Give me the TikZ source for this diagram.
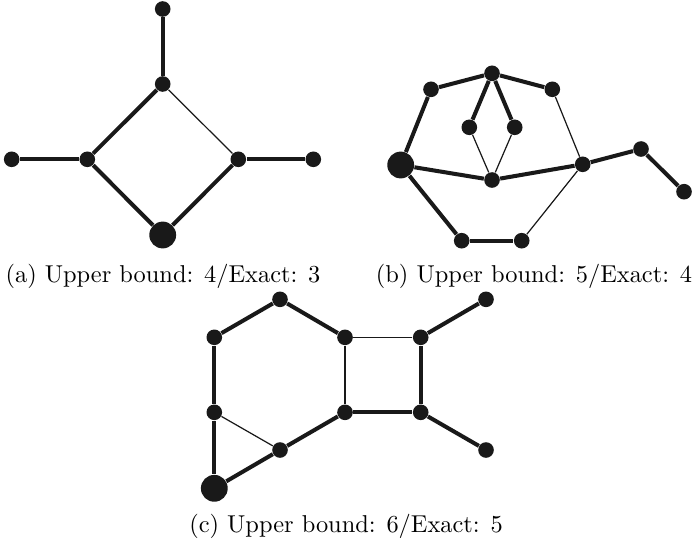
\documentclass[tikz,border=0pt]{standalone}
\begin{document}
\begin{tikzpicture}[
    x=0.41pt, y=-0.41pt,
    vtx/.style={circle, fill=black!90, inner sep=0pt, minimum size=6.4pt},
    rootvtx/.style={circle, fill=black!90, inner sep=0pt, minimum size=11pt},
    heavy/.style={line width=1.65pt, black!90},
    light/.style={line width=0.5pt, black!90},
    sublbl/.style={anchor=base, inner sep=0pt},
]
\useasboundingbox (0,0) rectangle (698,543);

% --- (a): diamond with four pendant vertices ---
\node[vtx] (a1) at (162.7,9) {};
\node[vtx] (a2) at (162.7,84) {};
\node[vtx] (a3) at (11.7,159.3) {};
\node[vtx] (a4) at (87.3,159.3) {};
\node[vtx] (a5) at (238.3,159.3) {};
\node[vtx] (a6) at (313.3,159.3) {};
\node[rootvtx] (a7) at (162.7,235) {};
\foreach \u/\v in {a1/a2, a2/a4, a3/a4, a4/a7, a7/a5, a5/a6}
    \draw[heavy] (\u) -- (\v);
\draw[light] (a2) -- (a5);
\node[sublbl] (capa) at (163,282) {(a) Upper bound: 4/Exact: 3};

% --- (b) ---
\node[vtx] (b1) at (492,73.3) {};
\node[vtx] (b2) at (431,89.3) {};
\node[vtx] (b3) at (552.3,89.3) {};
\node[vtx] (b4) at (469.3,127.3) {};
\node[vtx] (b5) at (514.7,127.3) {};
\node[rootvtx] (b6) at (400.7,165) {};
\node[vtx] (b7) at (492,180) {};
\node[vtx] (b8) at (582.7,164.3) {};
\node[vtx] (b9) at (641,149) {};
\node[vtx] (b10) at (684,191.7) {};
\node[vtx] (b11) at (461.7,240.7) {};
\node[vtx] (b12) at (521.7,240.7) {};
\foreach \u/\v in {b1/b2, b1/b3, b1/b4, b1/b5, b2/b6, b6/b7, b7/b8,
                   b8/b9, b9/b10, b6/b11, b11/b12}
    \draw[heavy] (\u) -- (\v);
\foreach \u/\v in {b3/b8, b4/b7, b5/b7, b12/b8}
    \draw[light] (\u) -- (\v);
\node[sublbl] (capb) at (534,282) {(b) Upper bound: 5/Exact: 4};

% --- (c): hexagon glued to a square ---
\node[vtx] (c1) at (280,299.3) {};
\node[vtx] (c2) at (214.3,337.3) {};
\node[vtx] (c3) at (345,337.3) {};
\node[vtx] (c4) at (420.7,337.3) {};
\node[vtx] (c5) at (486,299.3) {};
\node[vtx] (c6) at (214.3,412.3) {};
\node[vtx] (c7) at (345,412.3) {};
\node[vtx] (c8) at (420.7,412.3) {};
\node[vtx] (c9) at (486,450) {};
\node[vtx] (c10) at (280,450) {};
\node[rootvtx] (c11) at (214.3,488.3) {};
\foreach \u/\v in {c1/c2, c1/c3, c2/c6, c6/c11, c11/c10, c10/c7,
                   c7/c8, c4/c8, c4/c5, c8/c9}
    \draw[heavy] (\u) -- (\v);
\foreach \u/\v in {c6/c10, c3/c4, c3/c7}
    \draw[light] (\u) -- (\v);
\node[sublbl] (capc) at (346,532) {(c) Upper bound: 6/Exact: 5};

\end{tikzpicture}
\end{document}
